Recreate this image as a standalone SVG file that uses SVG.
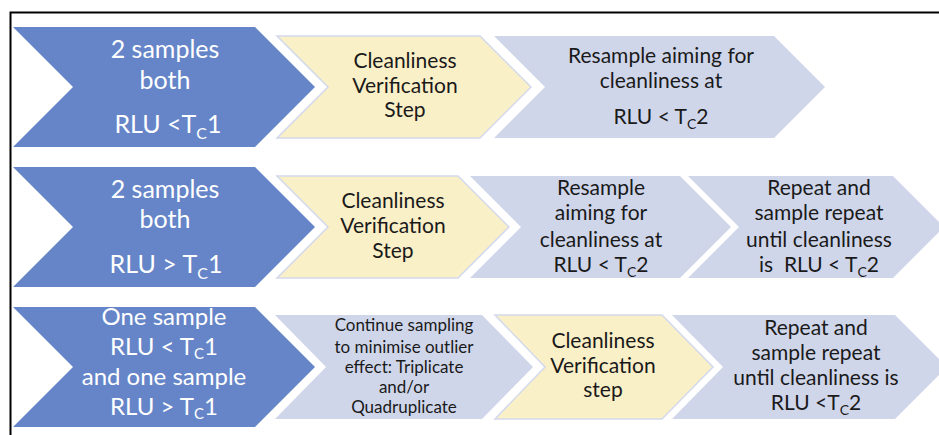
<svg xmlns="http://www.w3.org/2000/svg" width="939" height="435" viewBox="0 0 939 435">
<style>
.blue{fill:#6585c8}
.yel{fill:#faf0c8;stroke:#d3d9ec;stroke-width:1.5}
.lb{fill:#d0d6ea}
text{font-family:Lato,"Liberation Sans",sans-serif;text-anchor:middle;white-space:pre}
.w{fill:#ffffff;font-size:25px}
.w3{fill:#ffffff;font-size:24px}
.k{fill:#1a1a1a;font-size:21px}
.s{fill:#1a1a1a;font-size:17px}
</style>
<rect width="939" height="435" fill="#ffffff"/>
<path d="M10.5,435 V12.5 H939" fill="none" stroke="#000" stroke-width="2"/>
<g id="r1-blue"><path class="blue" d="M13,27 L255,27 L315,87 L255,147 L13,147 L73,87 Z"/>
<text class="w" x="165" y="58">2 samples</text><text class="w" x="165" y="89">both</text>
<text class="w" x="168" y="133">RLU &lt;T<tspan font-size="16" dy="6">C</tspan><tspan dy="-6">1</tspan></text></g>
<g id="r1-yellow"><path class="yel" d="M277,36 L480,36 L531,87 L480,138 L277,138 L328,87 Z"/>
<text class="k" x="405" y="68">Cleanliness</text><text class="k" x="405" y="93">Verification</text><text class="k" x="405" y="117">Step</text></g>
<g id="r1-resample"><path class="lb" d="M494,36 L774,36 L825,87 L774,138 L494,138 L545,87 Z"/>
<text class="k" x="661" y="63">Resample aiming for</text><text class="k" x="661" y="88">cleanliness at</text>
<text class="k" x="661" y="124">RLU &lt; T<tspan font-size="14" dy="5">C</tspan><tspan dy="-5">2</tspan></text></g>

<g id="r2-blue"><path class="blue" d="M13,167 L255,167 L315,227 L255,287 L13,287 L73,227 Z"/>
<text class="w" x="165" y="198">2 samples</text><text class="w" x="165" y="228">both</text>
<text class="w" x="166" y="273">RLU &gt; T<tspan font-size="16" dy="6">C</tspan><tspan dy="-6">1</tspan></text></g>
<g id="r2-yellow"><path class="yel" d="M277,176 L458,176 L509,227 L458,278 L277,278 L328,227 Z"/>
<text class="k" x="393" y="208">Cleanliness</text><text class="k" x="393" y="233">Verification</text><text class="k" x="393" y="258">Step</text></g>
<g id="r2-resample"><path class="lb" d="M470,176 L680,176 L731,227 L680,278 L470,278 L521,227 Z"/>
<text class="k" x="601" y="195">Resample</text><text class="k" x="601" y="220">aiming for</text><text class="k" x="601" y="247">cleanliness at</text>
<text class="k" x="601" y="272">RLU &lt; T<tspan font-size="14" dy="5">C</tspan><tspan dy="-5">2</tspan></text></g>
<g id="r2-repeat"><path class="lb" d="M688,176 L893,176 L944,227 L893,278 L688,278 L739,227 Z"/>
<text class="k" x="819" y="195">Repeat and</text><text class="k" x="819" y="220">sample repeat</text><text class="k" x="819" y="247">until cleanliness</text>
<text class="k" x="819" y="272">is  RLU &lt; T<tspan font-size="14" dy="5">C</tspan><tspan dy="-5">2</tspan></text></g>

<g id="r3-blue"><path class="blue" d="M13,307 L255,307 L315,367 L255,427 L13,427 L73,367 Z"/>
<text class="w3" x="164" y="325">One sample</text>
<text class="w3" x="164" y="355">RLU &lt; T<tspan font-size="15" dy="4">C</tspan><tspan dy="-4">1</tspan></text>
<text class="w3" x="164" y="385">and one sample</text>
<text class="w3" x="164" y="415">RLU &gt; T<tspan font-size="15" dy="4">C</tspan><tspan dy="-4">1</tspan></text></g>
<g id="r3-continue"><path class="lb" d="M275,315 L482,315 L533,367 L482,419 L275,419 L326,367 Z"/>
<text class="s" x="404" y="331">Continue sampling</text><text class="s" x="404" y="353">to minimise outlier</text>
<text class="s" x="404" y="373">effect: Triplicate</text><text class="s" x="404" y="393">and/or</text><text class="s" x="404" y="413">Quadruplicate</text></g>
<g id="r3-yellow"><path class="yel" d="M495,315 L662,315 L713,367 L662,419 L495,419 L545,367 Z"/>
<text class="k" x="603" y="348">Cleanliness</text><text class="k" x="603" y="373">Verification</text><text class="k" x="603" y="397">step</text></g>
<g id="r3-repeat"><path class="lb" d="M672,315 L895,315 L947,367 L895,419 L672,419 L723,367 Z"/>
<text class="k" x="816" y="335">Repeat and</text><text class="k" x="816" y="360">sample repeat</text><text class="k" x="816" y="385">until cleanliness is</text>
<text class="k" x="816" y="410">RLU &lt;T<tspan font-size="14" dy="5">C</tspan><tspan dy="-5">2</tspan></text></g>
<g id="connectors"></g>
</svg>
